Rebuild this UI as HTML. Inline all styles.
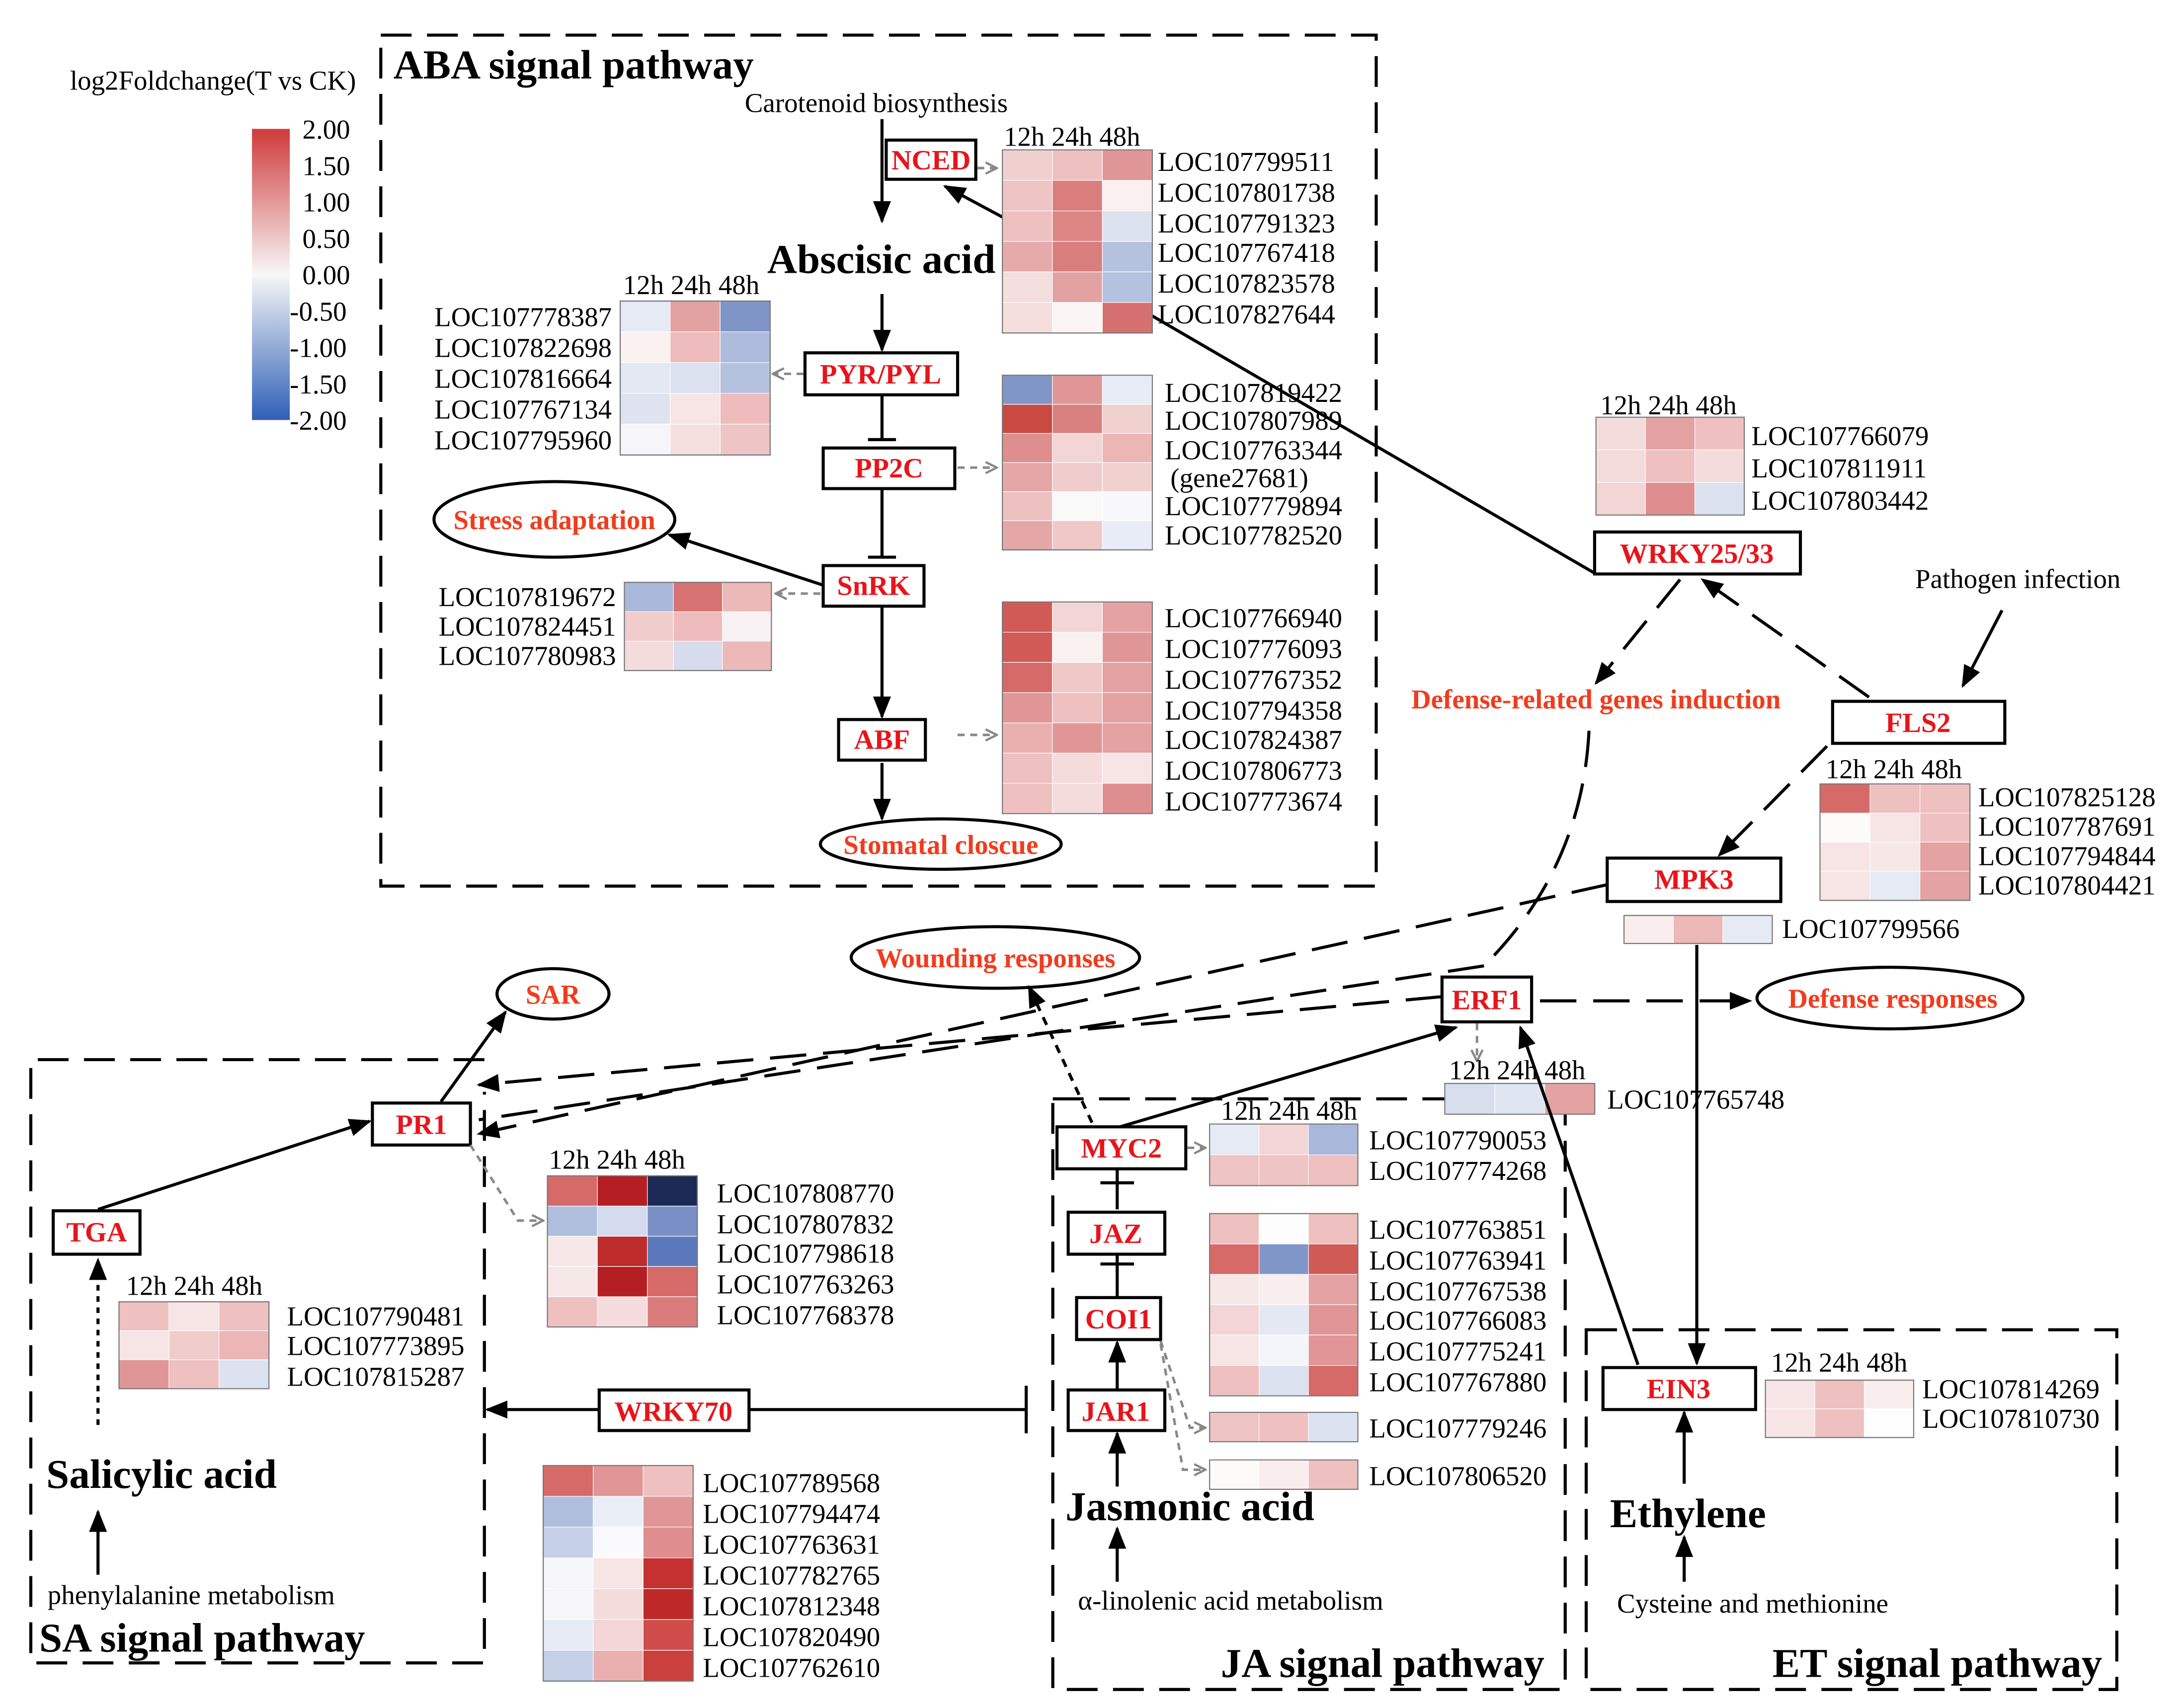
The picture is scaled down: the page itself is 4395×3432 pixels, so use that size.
<!DOCTYPE html>
<html><head><meta charset="utf-8">
<style>
html,body{margin:0;padding:0;background:#fff}
svg{display:block}
text{font-family:"Liberation Serif",serif}
.c rect{stroke:#fff;stroke-width:1.2;vector-effect:non-scaling-stroke}
.c rect.o{fill:none;stroke:#777;stroke-width:2.2}
.l{font-size:19.5px}
.h{font-size:19.5px}
.bx{fill:#fff;stroke:#000;stroke-width:2.2}
.bt{font-size:20px;font-weight:bold;fill:#e8141b;text-anchor:middle}
.rt{font-size:19.5px;font-weight:bold;fill:#f03c1e;text-anchor:middle}
.ln{stroke:#000;stroke-width:2.2;fill:none}
.dl{stroke:#000;stroke-width:2.2;fill:none;stroke-dasharray:26 12}
.gd{stroke:#888;stroke-width:1.8;fill:none;stroke-dasharray:5 4}
.bd{stroke:#000;stroke-width:2.2;fill:none;stroke-dasharray:22 11}
.big{font-size:29.5px;font-weight:bold}
.sm{font-size:19.5px}
</style></head>
<body>
<svg width="4395" height="3432" viewBox="0 0 1560 1218" xmlns="http://www.w3.org/2000/svg">
<defs>
<marker id="A" viewBox="0 0 10 10" refX="9" refY="5" markerWidth="16" markerHeight="16" markerUnits="userSpaceOnUse" orient="auto"><path d="M0,1 L10,5 L0,9 z" fill="#000"/></marker>
<marker id="g" viewBox="0 0 10 10" refX="9" refY="5" markerWidth="10" markerHeight="10" markerUnits="userSpaceOnUse" orient="auto"><path d="M1,1 L9,5 L1,9" fill="none" stroke="#888" stroke-width="1.6"/></marker>
<linearGradient id="cb" x1="0" y1="0" x2="0" y2="1"><stop offset="0" stop-color="#d03a3a"/><stop offset="0.5" stop-color="#f7f7f7"/><stop offset="1" stop-color="#2f5fb8"/></linearGradient>
</defs>

<!-- legend -->
<text x="50" y="64" class="l">log2Foldchange(T vs CK)</text>
<rect x="180" y="92" width="27" height="208" fill="url(#cb)"/>
<g class="l">
<text x="216" y="99">2.00</text><text x="216" y="125">1.50</text><text x="216" y="151">1.00</text><text x="216" y="177">0.50</text><text x="216" y="203">0.00</text><text x="207" y="229">-0.50</text><text x="207" y="255">-1.00</text><text x="207" y="281">-1.50</text><text x="207" y="307">-2.00</text>
</g>

<!-- pathway boxes -->
<rect x="272" y="25" width="711" height="608" class="bd"/>
<path d="M346,757 L22,757 L22,1188 L346,1188 L346,780" class="bd"/>
<rect x="752" y="785" width="366" height="422" class="bd"/>
<rect x="1133" y="950" width="379" height="257" class="bd"/>

<text x="281" y="56" class="big">ABA signal pathway</text>
<text x="28" y="1180" class="big">SA signal pathway</text>
<text x="872" y="1198" class="big">JA signal pathway</text>
<text x="1266" y="1198" class="big">ET signal pathway</text>

<!-- ABA -->
<text x="532" y="80" class="l">Carotenoid biosynthesis</text>
<line x1="630" y1="85" x2="630" y2="158" class="ln" marker-end="url(#A)"/>
<text x="548" y="195" class="big">Abscisic acid</text>
<line x1="630" y1="210" x2="630" y2="250" class="ln" marker-end="url(#A)"/>
<rect x="633" y="100" width="64" height="28" class="bx"/><text x="665" y="121" class="bt">NCED</text>
<rect x="575" y="252" width="109" height="30" class="bx"/><text x="629" y="274" class="bt">PYR/PYL</text>
<line x1="630" y1="283" x2="630" y2="314" class="ln"/><line x1="620" y1="314" x2="640" y2="314" class="ln"/>
<rect x="588" y="320" width="94" height="29" class="bx"/><text x="635" y="341" class="bt">PP2C</text>
<line x1="630" y1="350" x2="630" y2="398" class="ln"/><line x1="620" y1="398" x2="640" y2="398" class="ln"/>
<rect x="588" y="404" width="72" height="29" class="bx"/><text x="624" y="425" class="bt">SnRK</text>
<line x1="630" y1="434" x2="630" y2="512" class="ln" marker-end="url(#A)"/>
<rect x="599" y="514" width="62" height="29" class="bx"/><text x="630" y="535" class="bt">ABF</text>
<line x1="630" y1="545" x2="630" y2="585" class="ln" marker-end="url(#A)"/>
<ellipse cx="672" cy="603" rx="86" ry="18" class="bx"/><text x="672" y="610" class="rt">Stomatal closcue</text>
<ellipse cx="396" cy="371" rx="86" ry="27" class="bx"/><text x="396" y="378" class="rt">Stress adaptation</text>
<line x1="588" y1="418" x2="478" y2="382" class="ln" marker-end="url(#A)"/>
<line x1="716" y1="155" x2="675" y2="133" class="ln" marker-end="url(#A)"/>
<line x1="698" y1="120" x2="712" y2="120" class="gd" marker-end="url(#g)"/>
<line x1="574" y1="267" x2="552" y2="267" class="gd" marker-end="url(#g)"/>
<line x1="684" y1="334" x2="712" y2="334" class="gd" marker-end="url(#g)"/>
<line x1="586" y1="424" x2="554" y2="424" class="gd" marker-end="url(#g)"/>
<line x1="684" y1="525" x2="712" y2="525" class="gd" marker-end="url(#g)"/>
<line x1="822" y1="225" x2="1140" y2="410" class="ln"/>

<!-- NCED heatmap -->
<text x="717" y="104" class="h">12h 24h 48h</text>
<g class="c" transform="translate(716,107) scale(35.7,21.8)">
<rect x="0" y="0" width="1" height="1" fill="#f2cfcf"/><rect x="1" y="0" width="1" height="1" fill="#efc0c0"/><rect x="2" y="0" width="1" height="1" fill="#e09696"/>
<rect x="0" y="1" width="1" height="1" fill="#efc4c4"/><rect x="1" y="1" width="1" height="1" fill="#d97d7d"/><rect x="2" y="1" width="1" height="1" fill="#fbf0f0"/>
<rect x="0" y="2" width="1" height="1" fill="#efc0c0"/><rect x="1" y="2" width="1" height="1" fill="#dc8585"/><rect x="2" y="2" width="1" height="1" fill="#dde2f0"/>
<rect x="0" y="3" width="1" height="1" fill="#e6aaaa"/><rect x="1" y="3" width="1" height="1" fill="#d97d7d"/><rect x="2" y="3" width="1" height="1" fill="#b5c2df"/>
<rect x="0" y="4" width="1" height="1" fill="#f4dede"/><rect x="1" y="4" width="1" height="1" fill="#e3a2a2"/><rect x="2" y="4" width="1" height="1" fill="#b5c2df"/>
<rect x="0" y="5" width="1" height="1" fill="#f4dede"/><rect x="1" y="5" width="1" height="1" fill="#fbf5f5"/><rect x="2" y="5" width="1" height="1" fill="#d67070"/>
<rect class="o" x="0" y="0" width="3" height="6"/></g>
<g class="l"><text x="827" y="122">LOC107799511</text><text x="827" y="144">LOC107801738</text><text x="827" y="166">LOC107791323</text><text x="827" y="187">LOC107767418</text><text x="827" y="209">LOC107823578</text><text x="827" y="231">LOC107827644</text></g>

<!-- PYR heatmap -->
<text x="445" y="210" class="h">12h 24h 48h</text>
<g class="c" transform="translate(443,215) scale(35.7,22)">
<rect x="0" y="0" width="1" height="1" fill="#e6eaf4"/><rect x="1" y="0" width="1" height="1" fill="#e3a2a2"/><rect x="2" y="0" width="1" height="1" fill="#7f95c7"/>
<rect x="0" y="1" width="1" height="1" fill="#faf1f1"/><rect x="1" y="1" width="1" height="1" fill="#eebcbc"/><rect x="2" y="1" width="1" height="1" fill="#aebbdc"/>
<rect x="0" y="2" width="1" height="1" fill="#e4e8f3"/><rect x="1" y="2" width="1" height="1" fill="#dce1ef"/><rect x="2" y="2" width="1" height="1" fill="#b5c2df"/>
<rect x="0" y="3" width="1" height="1" fill="#dfe3f0"/><rect x="1" y="3" width="1" height="1" fill="#f7e5e5"/><rect x="2" y="3" width="1" height="1" fill="#eebcbc"/>
<rect x="0" y="4" width="1" height="1" fill="#f6f6fa"/><rect x="1" y="4" width="1" height="1" fill="#f5e0e0"/><rect x="2" y="4" width="1" height="1" fill="#efc4c4"/>
<rect class="o" x="0" y="0" width="3" height="5"/></g>
<g class="l" text-anchor="end"><text x="437" y="233">LOC107778387</text><text x="437" y="255">LOC107822698</text><text x="437" y="277">LOC107816664</text><text x="437" y="299">LOC107767134</text><text x="437" y="321">LOC107795960</text></g>

<!-- PP2C heatmap -->
<g class="c" transform="translate(716,268) scale(35.7,20.8)">
<rect x="0" y="0" width="1" height="1" fill="#8196c8"/><rect x="1" y="0" width="1" height="1" fill="#e09696"/><rect x="2" y="0" width="1" height="1" fill="#e8ecf6"/>
<rect x="0" y="1" width="1" height="1" fill="#c94a42"/><rect x="1" y="1" width="1" height="1" fill="#d98080"/><rect x="2" y="1" width="1" height="1" fill="#f1d0d0"/>
<rect x="0" y="2" width="1" height="1" fill="#de8e8e"/><rect x="1" y="2" width="1" height="1" fill="#f3d5d5"/><rect x="2" y="2" width="1" height="1" fill="#ecb6b6"/>
<rect x="0" y="3" width="1" height="1" fill="#e4a6a6"/><rect x="1" y="3" width="1" height="1" fill="#f1cccc"/><rect x="2" y="3" width="1" height="1" fill="#f1d0d0"/>
<rect x="0" y="4" width="1" height="1" fill="#efc0c0"/><rect x="1" y="4" width="1" height="1" fill="#faf9f9"/><rect x="2" y="4" width="1" height="1" fill="#f8f8fb"/>
<rect x="0" y="5" width="1" height="1" fill="#e4a6a6"/><rect x="1" y="5" width="1" height="1" fill="#f0c8c8"/><rect x="2" y="5" width="1" height="1" fill="#e8ecf6"/>
<rect class="o" x="0" y="0" width="3" height="6"/></g>
<g class="l"><text x="832" y="287">LOC107819422</text><text x="832" y="307">LOC107807989</text><text x="832" y="328">LOC107763344</text><text x="836" y="348">(gene27681)</text><text x="832" y="368">LOC107779894</text><text x="832" y="389">LOC107782520</text></g>

<!-- SnRK heatmap -->
<g class="c" transform="translate(446,416) scale(35,21)">
<rect x="0" y="0" width="1" height="1" fill="#aab8db"/><rect x="1" y="0" width="1" height="1" fill="#d67272"/><rect x="2" y="0" width="1" height="1" fill="#ecb8b8"/>
<rect x="0" y="1" width="1" height="1" fill="#f1cccc"/><rect x="1" y="1" width="1" height="1" fill="#eebcbc"/><rect x="2" y="1" width="1" height="1" fill="#f7f1f3"/>
<rect x="0" y="2" width="1" height="1" fill="#f5dcdc"/><rect x="1" y="2" width="1" height="1" fill="#d6dcee"/><rect x="2" y="2" width="1" height="1" fill="#ecb8b8"/>
<rect class="o" x="0" y="0" width="3" height="3"/></g>
<g class="l" text-anchor="end"><text x="440" y="433">LOC107819672</text><text x="440" y="454">LOC107824451</text><text x="440" y="475">LOC107780983</text></g>

<!-- ABF heatmap -->
<g class="c" transform="translate(716,430) scale(35.7,21.6)">
<rect x="0" y="0" width="1" height="1" fill="#d15a56"/><rect x="1" y="0" width="1" height="1" fill="#f3d5d5"/><rect x="2" y="0" width="1" height="1" fill="#e4a2a2"/>
<rect x="0" y="1" width="1" height="1" fill="#d15a56"/><rect x="1" y="1" width="1" height="1" fill="#fbf0f0"/><rect x="2" y="1" width="1" height="1" fill="#e09696"/>
<rect x="0" y="2" width="1" height="1" fill="#d66a68"/><rect x="1" y="2" width="1" height="1" fill="#f0c8c8"/><rect x="2" y="2" width="1" height="1" fill="#e4a2a2"/>
<rect x="0" y="3" width="1" height="1" fill="#e09696"/><rect x="1" y="3" width="1" height="1" fill="#efc0c0"/><rect x="2" y="3" width="1" height="1" fill="#e4a2a2"/>
<rect x="0" y="4" width="1" height="1" fill="#eab0b0"/><rect x="1" y="4" width="1" height="1" fill="#e09696"/><rect x="2" y="4" width="1" height="1" fill="#e4a2a2"/>
<rect x="0" y="5" width="1" height="1" fill="#efc0c0"/><rect x="1" y="5" width="1" height="1" fill="#f5dcdc"/><rect x="2" y="5" width="1" height="1" fill="#f7e5e5"/>
<rect x="0" y="6" width="1" height="1" fill="#efc0c0"/><rect x="1" y="6" width="1" height="1" fill="#f5dcdc"/><rect x="2" y="6" width="1" height="1" fill="#de8e8e"/>
<rect class="o" x="0" y="0" width="3" height="7"/></g>
<g class="l"><text x="832" y="448">LOC107766940</text><text x="832" y="470">LOC107776093</text><text x="832" y="492">LOC107767352</text><text x="832" y="514">LOC107794358</text><text x="832" y="535">LOC107824387</text><text x="832" y="557">LOC107806773</text><text x="832" y="579">LOC107773674</text></g>

<!-- WRKY25/33 -->
<text x="1143" y="296" class="h">12h 24h 48h</text>
<g class="c" transform="translate(1140,298) scale(35.3,23.3)">
<rect x="0" y="0" width="1" height="1" fill="#f5dcdc"/><rect x="1" y="0" width="1" height="1" fill="#e4a2a2"/><rect x="2" y="0" width="1" height="1" fill="#efc0c0"/>
<rect x="0" y="1" width="1" height="1" fill="#f5dcdc"/><rect x="1" y="1" width="1" height="1" fill="#efc0c0"/><rect x="2" y="1" width="1" height="1" fill="#f5dcdc"/>
<rect x="0" y="2" width="1" height="1" fill="#f3d5d5"/><rect x="1" y="2" width="1" height="1" fill="#de8e8e"/><rect x="2" y="2" width="1" height="1" fill="#dce1ef"/>
<rect class="o" x="0" y="0" width="3" height="3"/></g>
<g class="l"><text x="1251" y="318">LOC107766079</text><text x="1251" y="341">LOC107811911</text><text x="1251" y="364">LOC107803442</text></g>
<rect x="1139" y="380" width="147" height="30" class="bx"/><text x="1212" y="402" class="bt">WRKY25/33</text>
<text x="1368" y="420" class="l">Pathogen infection</text>
<line x1="1430" y1="436" x2="1402" y2="490" class="ln" marker-end="url(#A)"/>
<rect x="1309" y="501" width="123" height="30" class="bx"/><text x="1370" y="523" class="bt">FLS2</text>
<line x1="1335" y1="498" x2="1216" y2="414" class="dl" marker-end="url(#A)"/>
<line x1="1200" y1="414" x2="1140" y2="488" class="dl" marker-end="url(#A)"/>
<text x="1140" y="506" class="rt">Defense-related genes induction</text>
<path d="M1135,522 Q1130,620 1060,690" class="dl"/>
<line x1="1305" y1="533" x2="1228" y2="611" class="dl" marker-end="url(#A)"/>

<!-- FLS2 heatmap -->
<text x="1304" y="556" class="h">12h 24h 48h</text>
<g class="c" transform="translate(1300,560) scale(35.7,20.8)">
<rect x="0" y="0" width="1" height="1" fill="#d66a68"/><rect x="1" y="0" width="1" height="1" fill="#efc0c0"/><rect x="2" y="0" width="1" height="1" fill="#efc0c0"/>
<rect x="0" y="1" width="1" height="1" fill="#fdfafa"/><rect x="1" y="1" width="1" height="1" fill="#f7e5e5"/><rect x="2" y="1" width="1" height="1" fill="#efc0c0"/>
<rect x="0" y="2" width="1" height="1" fill="#f7e5e5"/><rect x="1" y="2" width="1" height="1" fill="#f7e8e8"/><rect x="2" y="2" width="1" height="1" fill="#e4a2a2"/>
<rect x="0" y="3" width="1" height="1" fill="#f7e5e5"/><rect x="1" y="3" width="1" height="1" fill="#e6eaf4"/><rect x="2" y="3" width="1" height="1" fill="#e4a2a2"/>
<rect class="o" x="0" y="0" width="3" height="4"/></g>
<g class="l"><text x="1413" y="576">LOC107825128</text><text x="1413" y="597">LOC107787691</text><text x="1413" y="618">LOC107794844</text><text x="1413" y="639">LOC107804421</text></g>

<!-- MPK3 -->
<rect x="1148" y="613" width="124" height="31" class="bx"/><text x="1210" y="635" class="bt">MPK3</text>
<g class="c" transform="translate(1160,654) scale(35.3,20)">
<rect x="0" y="0" width="1" height="1" fill="#f9eded"/><rect x="1" y="0" width="1" height="1" fill="#ecb8b8"/><rect x="2" y="0" width="1" height="1" fill="#e6eaf4"/>
<rect class="o" x="0" y="0" width="3" height="1"/></g>
<text x="1273" y="670" class="l">LOC107799566</text>
<line x1="1212" y1="675" x2="1212" y2="974" class="ln" marker-end="url(#A)"/>

<!-- long dashed lines -->
<line x1="1148" y1="632" x2="342" y2="810" class="dl" marker-end="url(#A)"/>
<line x1="1060" y1="690" x2="342" y2="800" class="dl"/>
<line x1="1030" y1="712" x2="342" y2="775" class="dl" marker-end="url(#A)"/>

<!-- ERF1 -->
<rect x="1030" y="698" width="64" height="32" class="bx"/><text x="1062" y="721" class="bt">ERF1</text>
<line x1="1100" y1="715" x2="1250" y2="715" class="dl" marker-end="url(#A)"/>
<ellipse cx="1350" cy="713" rx="95" ry="22" class="bx"/><text x="1352" y="720" class="rt">Defense responses</text>
<line x1="1055" y1="731" x2="1055" y2="758" class="gd" marker-end="url(#g)"/>
<text x="1035" y="771" class="h">12h 24h 48h</text>
<g class="c" transform="translate(1032,774) scale(35.7,22)">
<rect x="0" y="0" width="1" height="1" fill="#d8deee"/><rect x="1" y="0" width="1" height="1" fill="#e0e5f2"/><rect x="2" y="0" width="1" height="1" fill="#e4a2a2"/>
<rect class="o" x="0" y="0" width="3" height="1"/></g>
<text x="1148" y="792" class="l">LOC107765748</text>
<line x1="1170" y1="975" x2="1086" y2="734" class="ln" marker-end="url(#A)"/>
<line x1="800" y1="805" x2="1040" y2="734" class="ln" marker-end="url(#A)"/>
<ellipse cx="711" cy="684" rx="103" ry="22" class="bx"/><text x="711" y="691" class="rt">Wounding responses</text>
<line x1="780" y1="802" x2="735" y2="705" class="ln" stroke-dasharray="6 5" marker-end="url(#A)"/>

<!-- SA -->
<ellipse cx="395" cy="710" rx="40" ry="18" class="bx"/><text x="395" y="717" class="rt">SAR</text>
<rect x="266" y="788" width="70" height="30" class="bx"/><text x="301" y="810" class="bt">PR1</text>
<line x1="315" y1="787" x2="361" y2="723" class="ln" marker-end="url(#A)"/>
<rect x="38" y="865" width="62" height="31" class="bx"/><text x="69" y="887" class="bt">TGA</text>
<line x1="70" y1="864" x2="264" y2="801" class="ln" marker-end="url(#A)"/>
<path d="M336,818 L370,872 L388,872" class="gd" marker-end="url(#g)"/>
<text x="392" y="835" class="h">12h 24h 48h</text>
<g class="c" transform="translate(391,840) scale(35.7,21.6)">
<rect x="0" y="0" width="1" height="1" fill="#d66a68"/><rect x="1" y="0" width="1" height="1" fill="#b51f24"/><rect x="2" y="0" width="1" height="1" fill="#1b2a55"/>
<rect x="0" y="1" width="1" height="1" fill="#b0bede"/><rect x="1" y="1" width="1" height="1" fill="#d5dbee"/><rect x="2" y="1" width="1" height="1" fill="#7a8fc5"/>
<rect x="0" y="2" width="1" height="1" fill="#f7e8e8"/><rect x="1" y="2" width="1" height="1" fill="#bf2c2c"/><rect x="2" y="2" width="1" height="1" fill="#5a78bb"/>
<rect x="0" y="3" width="1" height="1" fill="#f7e8e8"/><rect x="1" y="3" width="1" height="1" fill="#b51f24"/><rect x="2" y="3" width="1" height="1" fill="#d66a68"/>
<rect x="0" y="4" width="1" height="1" fill="#efc0c0"/><rect x="1" y="4" width="1" height="1" fill="#f5dcdc"/><rect x="2" y="4" width="1" height="1" fill="#da7c7c"/>
<rect class="o" x="0" y="0" width="3" height="5"/></g>
<g class="l"><text x="512" y="859">LOC107808770</text><text x="512" y="881">LOC107807832</text><text x="512" y="902">LOC107798618</text><text x="512" y="924">LOC107763263</text><text x="512" y="946">LOC107768378</text></g>

<text x="90" y="925" class="h">12h 24h 48h</text>
<g class="c" transform="translate(85,930) scale(35.7,20.7)">
<rect x="0" y="0" width="1" height="1" fill="#efc0c0"/><rect x="1" y="0" width="1" height="1" fill="#f7e5e5"/><rect x="2" y="0" width="1" height="1" fill="#efc0c0"/>
<rect x="0" y="1" width="1" height="1" fill="#f7e5e5"/><rect x="1" y="1" width="1" height="1" fill="#f1cccc"/><rect x="2" y="1" width="1" height="1" fill="#ecb6b6"/>
<rect x="0" y="2" width="1" height="1" fill="#e09696"/><rect x="1" y="2" width="1" height="1" fill="#efc0c0"/><rect x="2" y="2" width="1" height="1" fill="#dde2f0"/>
<rect class="o" x="0" y="0" width="3" height="3"/></g>
<g class="l"><text x="205" y="947">LOC107790481</text><text x="205" y="968">LOC107773895</text><text x="205" y="990">LOC107815287</text></g>
<line x1="70" y1="1018" x2="70" y2="900" class="ln" stroke-dasharray="4 4" marker-end="url(#A)"/>
<text x="33" y="1063" class="big">Salicylic acid</text>
<line x1="70" y1="1125" x2="70" y2="1080" class="ln" marker-end="url(#A)"/>
<text x="34" y="1146" class="sm">phenylalanine metabolism</text>

<rect x="428" y="993" width="107" height="29" class="bx"/><text x="481" y="1015" class="bt">WRKY70</text>
<line x1="428" y1="1007" x2="348" y2="1007" class="ln" marker-end="url(#A)"/>
<line x1="535" y1="1007" x2="733" y2="1007" class="ln"/><line x1="733" y1="990" x2="733" y2="1024" class="ln"/>
<g class="c" transform="translate(388,1047) scale(35.7,22)">
<rect x="0" y="0" width="1" height="1" fill="#d66a68"/><rect x="1" y="0" width="1" height="1" fill="#e09696"/><rect x="2" y="0" width="1" height="1" fill="#efc0c0"/>
<rect x="0" y="1" width="1" height="1" fill="#b0bede"/><rect x="1" y="1" width="1" height="1" fill="#eaeef7"/><rect x="2" y="1" width="1" height="1" fill="#e09696"/>
<rect x="0" y="2" width="1" height="1" fill="#c5cfe6"/><rect x="1" y="2" width="1" height="1" fill="#fafafc"/><rect x="2" y="2" width="1" height="1" fill="#de8e8e"/>
<rect x="0" y="3" width="1" height="1" fill="#f6f6fa"/><rect x="1" y="3" width="1" height="1" fill="#f7e5e5"/><rect x="2" y="3" width="1" height="1" fill="#c53030"/>
<rect x="0" y="4" width="1" height="1" fill="#f6f6fa"/><rect x="1" y="4" width="1" height="1" fill="#f5dcdc"/><rect x="2" y="4" width="1" height="1" fill="#bf2828"/>
<rect x="0" y="5" width="1" height="1" fill="#e6eaf4"/><rect x="1" y="5" width="1" height="1" fill="#f3d5d5"/><rect x="2" y="5" width="1" height="1" fill="#cf4c4a"/>
<rect x="0" y="6" width="1" height="1" fill="#c5cfe6"/><rect x="1" y="6" width="1" height="1" fill="#eab0b0"/><rect x="2" y="6" width="1" height="1" fill="#c9403c"/>
<rect class="o" x="0" y="0" width="3" height="7"/></g>
<g class="l"><text x="502" y="1066">LOC107789568</text><text x="502" y="1088">LOC107794474</text><text x="502" y="1110">LOC107763631</text><text x="502" y="1132">LOC107782765</text><text x="502" y="1154">LOC107812348</text><text x="502" y="1176">LOC107820490</text><text x="502" y="1198">LOC107762610</text></g>

<!-- JA -->
<rect x="755" y="805" width="92" height="30" class="bx"/><text x="801" y="827" class="bt">MYC2</text>
<line x1="848" y1="820" x2="861" y2="820" class="gd" marker-end="url(#g)"/>
<text x="872" y="800" class="h">12h 24h 48h</text>
<g class="c" transform="translate(864,803) scale(35.3,22)">
<rect x="0" y="0" width="1" height="1" fill="#e6eaf4"/><rect x="1" y="0" width="1" height="1" fill="#f3d5d5"/><rect x="2" y="0" width="1" height="1" fill="#a9b7da"/>
<rect x="0" y="1" width="1" height="1" fill="#efc4c4"/><rect x="1" y="1" width="1" height="1" fill="#efc4c4"/><rect x="2" y="1" width="1" height="1" fill="#efc0c0"/>
<rect class="o" x="0" y="0" width="3" height="2"/></g>
<g class="l"><text x="978" y="821">LOC107790053</text><text x="978" y="843">LOC107774268</text></g>
<line x1="798" y1="836" x2="798" y2="864" class="ln"/><line x1="786" y1="845" x2="810" y2="845" class="ln"/>
<rect x="763" y="866" width="69" height="30" class="bx"/><text x="797" y="888" class="bt">JAZ</text>
<line x1="798" y1="897" x2="798" y2="926" class="ln"/><line x1="786" y1="903" x2="810" y2="903" class="ln"/>
<rect x="769" y="927" width="60" height="30" class="bx"/><text x="799" y="949" class="bt">COI1</text>
<line x1="798" y1="993" x2="798" y2="959" class="ln" marker-end="url(#A)"/>
<rect x="763" y="993" width="69" height="29" class="bx"/><text x="797" y="1015" class="bt">JAR1</text>
<line x1="798" y1="1062" x2="798" y2="1024" class="ln" marker-end="url(#A)"/>
<path d="M829,958 L850,1020 L861,1020" class="gd" marker-end="url(#g)"/>
<path d="M829,960 L845,1050 L861,1050" class="gd" marker-end="url(#g)"/>
<g class="c" transform="translate(864,867) scale(35.3,21.7)">
<rect x="0" y="0" width="1" height="1" fill="#efc0c0"/><rect x="1" y="0" width="1" height="1" fill="#fdfdfd"/><rect x="2" y="0" width="1" height="1" fill="#efc0c0"/>
<rect x="0" y="1" width="1" height="1" fill="#d66a68"/><rect x="1" y="1" width="1" height="1" fill="#8196c8"/><rect x="2" y="1" width="1" height="1" fill="#d05a56"/>
<rect x="0" y="2" width="1" height="1" fill="#f7e8e8"/><rect x="1" y="2" width="1" height="1" fill="#f9eded"/><rect x="2" y="2" width="1" height="1" fill="#e4a2a2"/>
<rect x="0" y="3" width="1" height="1" fill="#f3d5d5"/><rect x="1" y="3" width="1" height="1" fill="#e4e8f3"/><rect x="2" y="3" width="1" height="1" fill="#e09696"/>
<rect x="0" y="4" width="1" height="1" fill="#f7e5e5"/><rect x="1" y="4" width="1" height="1" fill="#f4f5fa"/><rect x="2" y="4" width="1" height="1" fill="#e09696"/>
<rect x="0" y="5" width="1" height="1" fill="#efc0c0"/><rect x="1" y="5" width="1" height="1" fill="#dce1ef"/><rect x="2" y="5" width="1" height="1" fill="#d66a68"/>
<rect class="o" x="0" y="0" width="3" height="6"/></g>
<g class="l"><text x="978" y="885">LOC107763851</text><text x="978" y="907">LOC107763941</text><text x="978" y="929">LOC107767538</text><text x="978" y="950">LOC107766083</text><text x="978" y="972">LOC107775241</text><text x="978" y="994">LOC107767880</text></g>
<g class="c" transform="translate(864,1009) scale(35.3,21)">
<rect x="0" y="0" width="1" height="1" fill="#efc4c4"/><rect x="1" y="0" width="1" height="1" fill="#efc0c0"/><rect x="2" y="0" width="1" height="1" fill="#dde2f0"/>
<rect class="o" x="0" y="0" width="3" height="1"/></g>
<text x="978" y="1027" class="l">LOC107779246</text>
<g class="c" transform="translate(864,1043) scale(35.3,21)">
<rect x="0" y="0" width="1" height="1" fill="#fdfafa"/><rect x="1" y="0" width="1" height="1" fill="#f9eded"/><rect x="2" y="0" width="1" height="1" fill="#efc0c0"/>
<rect class="o" x="0" y="0" width="3" height="1"/></g>
<text x="978" y="1061" class="l">LOC107806520</text>
<text x="761" y="1086" class="big">Jasmonic acid</text>
<line x1="798" y1="1130" x2="798" y2="1092" class="ln" marker-end="url(#A)"/>
<text x="770" y="1150" class="sm">α-linolenic acid metabolism</text>

<!-- ET -->
<rect x="1145" y="977" width="109" height="30" class="bx"/><text x="1199" y="999" class="bt">EIN3</text>
<text x="1265" y="980" class="h">12h 24h 48h</text>
<g class="c" transform="translate(1261,986) scale(35.3,20.5)">
<rect x="0" y="0" width="1" height="1" fill="#f7e5e5"/><rect x="1" y="0" width="1" height="1" fill="#efc0c0"/><rect x="2" y="0" width="1" height="1" fill="#f9eded"/>
<rect x="0" y="1" width="1" height="1" fill="#f7e5e5"/><rect x="1" y="1" width="1" height="1" fill="#efc0c0"/><rect x="2" y="1" width="1" height="1" fill="#fefefe"/>
<rect class="o" x="0" y="0" width="3" height="2"/></g>
<g class="l"><text x="1373" y="999">LOC107814269</text><text x="1373" y="1020">LOC107810730</text></g>
<line x1="1203" y1="1060" x2="1203" y2="1009" class="ln" marker-end="url(#A)"/>
<text x="1150" y="1091" class="big">Ethylene</text>
<line x1="1203" y1="1130" x2="1203" y2="1098" class="ln" marker-end="url(#A)"/>
<text x="1155" y="1152" class="sm">Cysteine and methionine</text>
</svg>
</body></html>
